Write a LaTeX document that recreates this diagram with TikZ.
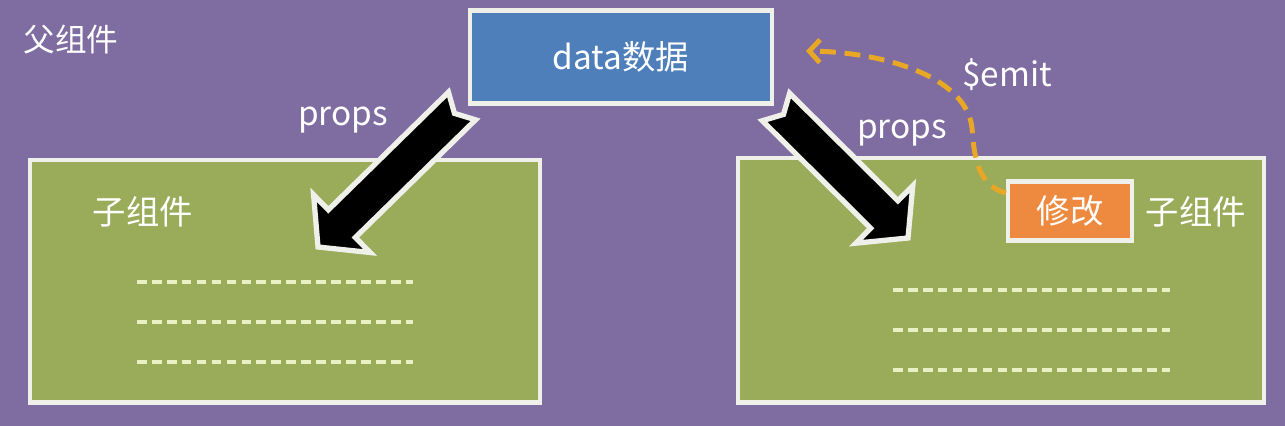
\documentclass[tikz,border=0pt]{standalone}
\usepackage{fontspec}
\setmainfont{Noto Sans CJK SC}
\usetikzlibrary{positioning, calc, arrows.meta}

\definecolor{bgpurple}{RGB}{127,108,160}
\definecolor{boxblue}{RGB}{79,127,186}
\definecolor{boxgreen}{RGB}{154,171,90}
\definecolor{boxorange}{RGB}{238,138,63}
\definecolor{emitgold}{RGB}{232,168,37}
\definecolor{rimwhite}{RGB}{240,240,234}
\definecolor{dashpale}{RGB}{232,240,196}

% block arrow with notched tail: #1 = tail, #2 = tip
\newcommand{\bigarrow}[2]{
  \filldraw[fill=black, draw=rimwhite, line width=3pt, line join=miter]
    ($(#1)!11pt!90:(#2)$) --
    ($(#2)!19pt!(#1)!11pt!-90:(#1)$) --
    ($(#2)!19pt!(#1)!23pt!-90:(#1)$) --
    (#2) --
    ($(#2)!19pt!(#1)!23pt!90:(#1)$) --
    ($(#2)!19pt!(#1)!11pt!90:(#1)$) --
    ($(#1)!11pt!-90:(#2)$) --
    ($(#1)!6pt!(#2)$) -- cycle;
}

\begin{document}
\begin{tikzpicture}[x=0.02cm, y=-0.02cm,
  box/.style={draw=rimwhite, line width=2.3pt, rectangle},
  txt/.style={text=white, font=\fontsize{19}{22}\selectfont},
  dashline/.style={draw=dashpale, line width=2pt, dash pattern=on 5.5pt off 3pt}]

\fill[bgpurple] (0,0) rectangle (1285,426);
\useasboundingbox (0,0) rectangle (1285,426);

% Parent
\node[txt, font=\fontsize{18}{21}\selectfont] (parent) at (71,40) {父组件};
\node[box, fill=boxblue, minimum width=6.06cm, minimum height=1.86cm, txt] (data) at (621,57) {data数据};

% Children
\node[box, fill=boxgreen, minimum width=10.22cm, minimum height=4.86cm] (childl) at (285,281) {};
\node[box, fill=boxgreen, minimum width=10.54cm, minimum height=4.9cm] (childr) at (1001,280) {};
\node[txt] (namel) at (143,212) {子组件};
\node[box, fill=boxorange, minimum width=2.48cm, minimum height=1.18cm, txt] (fix) at (1070,211) {修改};
\node[txt] (namer) at (1196,212) {子组件};

\foreach \y in {282,322,362} {
  \draw[dashline] (137,\y) -- (413,\y);
}
\foreach \y in {290,330,370} {
  \draw[dashline] (893,\y) -- (1170,\y);
}

% props arrows
\coordinate (ltail) at (462,106);
\coordinate (ltip) at (318,247);
\coordinate (rtail) at (776,107);
\coordinate (rtip) at (908,238);
\bigarrow{ltail}{ltip}
\bigarrow{rtail}{rtip}
\node[txt] (propsl) at (343,120) {props};
\node[txt] (propsr) at (902,133) {props};

% emit
\coordinate (emitend) at (806,51);
\draw[emitgold, line width=2.8pt, dash pattern=on 9pt off 5pt, -{Straight Barb[length=6pt, width=13pt, line width=2.8pt]}]
  ($(fix.west)+(0,-18)$) .. controls (975,185) and (974,150) .. (972,128)
  .. controls (966,75) and (880,52) .. (emitend);
\node[txt] (emit) at (1007,75) {\$emit};
\end{tikzpicture}
\end{document}
